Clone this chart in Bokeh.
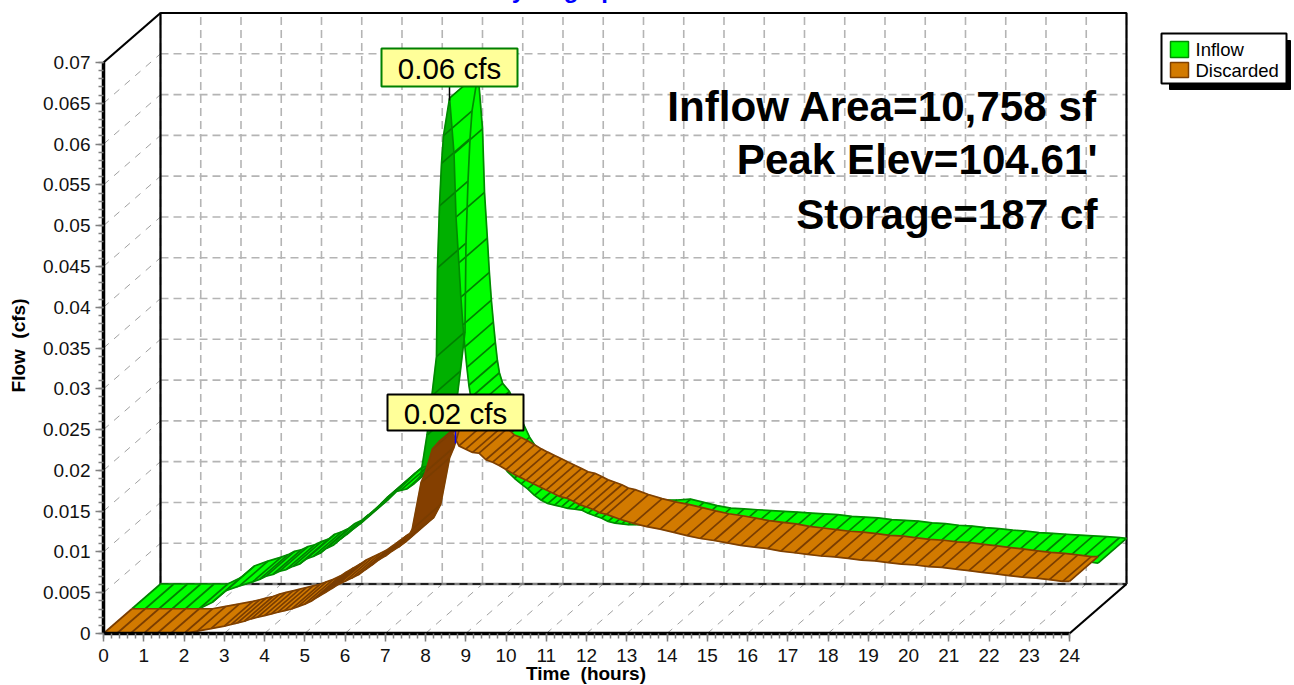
import math
from bokeh.plotting import figure
from bokeh.models import FixedTicker, Range1d
from bokeh.core.properties import value
from bokeh.embed import file_html
from bokeh.resources import INLINE

inflow_times = [0,0.33,0.67,1,1.33,1.67,2,2.33,2.67,
 3,3.17,3.33,3.5,3.67,3.83,4,4.17,4.33,4.5,4.67,4.83,5,5.17,5.33,5.5,5.67,5.83,
 6,6.17,6.33,6.5,6.67,6.83,7,7.17,7.33,7.45,7.565,7.59,7.64,7.69,7.74,7.89,8,8.05,8.12,8.17,8.22,8.27,8.32,8.37,8.42,8.5,8.67,8.83,
 9,9.17,9.33,9.5,9.67,9.83,10,10.17,10.33,10.5,10.67,10.83,11,11.17,11.33,11.5,11.67,11.83,
 12,12.17,12.33,12.5,12.83,13.17,13.5,13.83,14.17,14.5,14.83,15.17,15.5,15.83,16.17,16.5,16.83,
 17.17,17.5,17.83,18.17,18.5,18.83,19.17,19.5,19.83,20.17,20.5,20.83,21.17,21.5,21.83,
 22.17,22.5,22.83,23.17,23.5,23.83,24]

inflow = [0,0,0,0,0,0,.0008,.0022,.0028,
 .0033,.0036,.004,.0042,.0046,.0048,.0052,.0055,.0061,.0064,.0068,.0074,.0078,.0085,.0091,.0098,.0104,.0112,
 .012,.0128,.0136,.0143,.0145,.0147,.0153,.0163,.0213,.0261,.0309,.0418,.0494,.0546,.058,.0626,.0558,.048,.0424,.0382,.0348,.0321,.0296,.0274,.0259,.0246,.0236,.0218,
 .0198,.018,.0168,.016,.0153,.0147,.0139,.0133,.0129,.0127,.0125,.0123,.0122,.0121,.0117,.0114,.0111,.0107,
 .0105,.0104,.0103,.0103,.0103,.0104,.01,.0096,.0093,.0092,.0091,.009,.0089,.0088,.0087,.0086,.0085,
 .0083,.0082,.0081,.0079,.0078,.0077,.0075,.0074,.0072,.0071,.0069,.0068,.0066,.0065,.0063,
 .0062,.0061,.006,.0059,.0058,.0057,.0056]

discarded_times = [0,0.33,0.67,1,1.33,1.67,2,2.33,2.67,
 3,3.17,3.33,3.5,3.67,3.83,4,4.17,4.33,4.5,4.67,4.83,5,5.17,5.33,5.5,5.67,5.83,
 6,6.17,6.33,6.5,6.67,6.83,7,7.17,7.33,7.5,7.67,7.89,8,8.17,8.33,8.5,8.67,8.83,
 9,9.17,9.33,9.5,9.67,9.83,10,10.17,10.33,10.5,10.67,10.83,11,11.17,11.33,11.5,11.67,11.83,
 12,12.17,12.33,12.5,12.83,13.17,13.5,13.83,14.17,14.5,14.83,15.17,15.5,15.83,16.17,16.5,16.83,
 17.17,17.5,17.83,18.17,18.5,18.83,19.17,19.5,19.83,20.17,20.5,20.83,21.17,21.5,21.83,
 22.17,22.5,22.83,23.17,23.5,23.83,24]

discarded = [0,0,0,0,0,0,0,.0003,.0006,
 .0009,.0011,.0013,.0015,.0018,.002,.0022,.0024,.0026,.0028,.003,.0033,.0036,.004,.0045,.005,.0055,.006,
 .0064,.0068,.0072,.0078,.0084,.009,.0095,.0101,.0106,.0112,.0128,.0185,.0198,.0226,.0235,.0241,.0246,.023,
 .0226,.0222,.0221,.0213,.021,.0206,.0201,.0196,.0192,.0188,.0184,.018,.0176,.0172,.0168,.0166,.0162,.0158,
 .0155,.0152,.0148,.0146,.014,.0135,.0131,.0128,.0124,.012,.01165,.0114,.0111,.0108,.0106,.0104,.0101,
 .0099,.0097,.0095,.0094,.0092,.009,.0089,.0087,.0085,.0084,.0082,.0081,.0079,.0077,.0075,
 .0073,.0071,.0069,.0068,.0066,.0064,.0064]

x_ticks = list(range(25))
y_ticks = [0,.005,.01,.015,.02,.025,.03,.035,.04,.045,.05,.055,.06,.065,.07]
y_tick_labels = ["0","0.005","0.01","0.015","0.02","0.025","0.03","0.035","0.04","0.045","0.05","0.055","0.06","0.065","0.07"]
x_minor = [i/5 for i in range(121)]
y_minor = [i/1000 for i in range(71)]

series_names = ["Inflow", "Discarded"]
note_lines = ["Inflow Area=10,758 sf", "Peak Elev=104.61'", "Storage=187 cf"]
peak_labels = ["0.06 cfs", "0.02 cfs"]
title_text = "Hydrograph"
x_title = "Time \u00a0(hours)"
y_title = "Flow \u00a0(cfs)"

# page geometry
SX, SY = 40.25, 8157.0
X0, Y0 = 103, 633
OVER = 30
DX, DY = 57/SX, 49.5/SY
FONT = value("Liberation Sans")

def hx(px): return (px - X0)/SX
def hy(py): return (Y0 - py)/SY

p = figure(width=1294, height=685+OVER, output_backend="svg", toolbar_location=None,
           x_range=Range1d(hx(0), hx(1294)), y_range=Range1d(hy(685), hy(-OVER)),
           min_border=0,
           background_fill_color="white", border_fill_color=None, outline_line_color=None)
p.styles = {"margin-top": f"-{OVER}px", "margin-left": "0px"}
p.grid.visible = False

for ax, tk, mn in ((p.xaxis[0], x_ticks, x_minor), (p.yaxis[0], y_ticks, y_minor)):
    ax.fixed_location = 0
    ax.ticker = FixedTicker(ticks=tk, minor_ticks=mn)
    ax.axis_line_color = "black"
    ax.axis_line_width = 3.5
    ax.major_tick_in = 0; ax.major_tick_out = 8
    ax.minor_tick_in = 0; ax.minor_tick_out = 5
    ax.major_tick_line_color = "#808080"; ax.minor_tick_line_color = "#808080"
    ax.major_tick_line_width = 1.5; ax.minor_tick_line_width = 1.5
    ax.major_label_text_font = "Liberation Sans"
    ax.major_label_text_font_size = "19px"
    ax.major_label_text_color = "#111111"
p.xaxis[0].major_label_standoff = 7
p.yaxis[0].major_label_standoff = 5
p.xaxis[0].bounds = (0, 24)
p.yaxis[0].bounds = (0, .07)
p.yaxis[0].major_label_overrides = dict(zip(y_ticks, y_tick_labels))

GRID = "#b4b4b4"
# back wall grid
p.segment([t+DX for t in x_ticks], [DY]*25, [t+DX for t in x_ticks], [.07+DY]*25,
          line_color=GRID, line_width=1.6, line_dash="8 5")
p.segment([DX]*15, [q+DY for q in y_ticks], [24+DX]*15, [q+DY for q in y_ticks],
          line_color=GRID, line_width=1.6, line_dash="8 5")
# floor and side wall diagonals
p.segment(x_ticks, [0]*25, [t+DX for t in x_ticks], [DY]*25, line_color="#a0a0a0", line_width=1, line_dash="7 7")
p.segment([0]*15, y_ticks, [DX]*15, [q+DY for q in y_ticks], line_color="#a0a0a0", line_width=1, line_dash="7 7")
# box frame
p.line([DX, DX, 24+DX, 24+DX], [DY, .07+DY, .07+DY, DY], line_color="black", line_width=2.2)
p.line([DX, 24+DX], [DY, DY], line_color="#808080", line_width=2.5)
p.line([DX, 24+DX], [DY, DY], line_color="black", line_width=1.5, line_dash="8 5")
p.line([0, DX], [.07, .07+DY], line_color="black", line_width=2.2)
p.line([24, 24+DX], [0, DY], line_color="black", line_width=2.2)

def ribbon(ts, qs, z0, z1, light, dark, edge, hatch):
    xs, ys, cols = [], [], []
    for i in range(len(ts)-1):
        t0, t1, a, b = ts[i], ts[i+1], qs[i], qs[i+1]
        xs.append([t0+z0*DX, t1+z0*DX, t1+z1*DX, t0+z1*DX])
        ys.append([a+z0*DY, b+z0*DY, b+z1*DY, a+z1*DY])
        # the shaded side shows where the curve climbs close to the depth direction or faster
        cols.append(dark if (b-a)/(t1-t0) > 0.6*DY/DX else light)
    p.patches(xs, ys, fill_color=cols, line_color=cols, line_width=0.5)
    p.segment([t+z0*DX for t in ts], [q+z0*DY for q in qs],
              [t+z1*DX for t in ts], [q+z1*DY for q in qs], line_color=hatch, line_width=1.7)
    p.line([t+z0*DX for t in ts], [q+z0*DY for q in qs], line_color=edge, line_width=1.7)
    p.line([t+z1*DX for t in ts], [q+z1*DY for q in qs], line_color=edge, line_width=1.7)

GREEN, GREEN_D, BROWN, BROWN_D = "#00ff00", "#00b000", "#d27a00", "#843f00"
ribbon(inflow_times, inflow, .5, 1, GREEN, GREEN_D, "#008c00", "#008000")
ribbon(discarded_times, discarded, 0, .5, BROWN, BROWN_D, "#7f4000", "#7a3d00")

def box(x0, y0, x1, y1, fill, line=None, lw=2):
    p.quad(left=[hx(x0)], right=[hx(x1)], top=[hy(y0)], bottom=[hy(y1)],
           fill_color=fill, line_color=line, line_width=lw)

def label(x, y, s, size, style="normal", align="left", color="black", angle=0):
    p.text([hx(x)], [hy(y)], text=[s], text_font=FONT, text_font_size=size, text_font_style=style,
           text_align=align, text_baseline="middle", text_color=color, angle=angle)

# peak markers and labels
p.segment([hx(449)], [hy(86)], [hx(449)], [hy(100)], line_color="black", line_width=1.5)
p.segment([hx(455)], [hy(430)], [hx(455)], [hy(443)], line_color="#0000ff", line_width=1.5)
box(381, 48, 517, 86, "#ffff99", "#008000")
label(449, 67.5, peak_labels[0], "29.5px", align="center")
box(387, 394, 523, 430, "#ffff99", "black")
label(455, 412.5, peak_labels[1], "29.5px", align="center")

# notes
for s, y in zip(note_lines, (106, 159, 214)):
    label(1097, y, s, "42.2px", "bold", "right")

# title, cut by the page top
p.text([hx(494)], [hy(-11)], text=[title_text], text_font=FONT, text_font_size="24px", text_font_style="bold",
       text_align="left", text_baseline="alphabetic", text_color="#0000ff")

# legend
box(1169, 40, 1290, 89, "black", "black", 1)
box(1161, 33, 1286, 83, "white", "black", 2)
box(1170, 41, 1188, 57, GREEN, "#008c00", 1.5)
box(1170, 62, 1188, 77, BROWN, "#7f4000", 1.5)
label(1195, 48.5, series_names[0], "18.5px")
label(1195, 69.5, series_names[1], "18.5px")

# axis titles
label(585.5, 673, x_title, "19px", "bold", "center")
label(18, 345, y_title, "19px", "bold", "center", angle=math.pi/2)

open("out.html", "w").write(file_html(p, INLINE))
